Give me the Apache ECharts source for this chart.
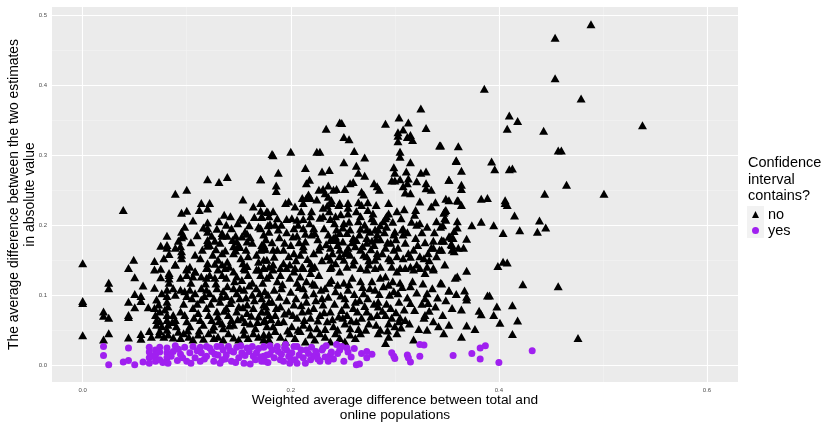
<!DOCTYPE html>
<html><head><meta charset="utf-8">
<script src="https://cdn.jsdelivr.net/npm/echarts@6/dist/echarts.min.js"></script>
<style>html,body{margin:0;padding:0;background:#fff}#c{width:822px;height:422px}</style>
</head><body><div id="c"></div>
<script>
// ---- tick values ----
const xMajor = [0, 0.2, 0.4, 0.6];
const xMinor = [0.1, 0.3, 0.5];
const yMajor = [0, 0.1, 0.2, 0.3, 0.4, 0.5];
const yMinor = [0.05, 0.15, 0.25, 0.35, 0.45];

// ---- "no" points (triangles) ----
const noLeft = [[0.000,0.146],[0.000,0.092],[0.000,0.089],[0.000,0.043],[0.039,0.222],
[0.025,0.118],[0.025,0.110],[0.020,0.077],[0.020,0.071],[0.025,0.068],[0.020,0.037],[0.025,0.046],
[0.044,0.139],[0.050,0.126],[0.044,0.091],[0.044,0.072],[0.044,0.069],[0.050,0.102],[0.050,0.083],[0.056,0.099],[0.056,0.092],[0.044,0.040],[0.056,0.045],[0.056,0.038],
[0.069,0.137],[0.075,0.138],[0.075,0.126],[0.069,0.111],[0.058,0.114],[0.069,0.082],[0.064,0.049],[0.049,0.151]];

const noUpperLeft = [[0.120,0.266],[0.131,0.262],[0.139,0.269],[0.171,0.266],[0.089,0.245],[0.100,0.251],
[0.095,0.218],[0.100,0.221],[0.114,0.232],[0.122,0.232],[0.112,0.222],[0.120,0.224],[0.154,0.237],[0.164,0.227],[0.171,0.232],[0.171,0.221],[0.178,0.219],[0.172,0.212],[0.142,0.213],[0.152,0.211],[0.154,0.208],[0.131,0.206],[0.138,0.201],[0.120,0.204],[0.120,0.196],[0.120,0.191],[0.169,0.198],[0.178,0.200],[0.095,0.191],[0.097,0.185],[0.095,0.183],[0.081,0.185],[0.134,0.189],[0.134,0.185],[0.139,0.185],[0.156,0.191],[0.158,0.188],[0.161,0.183],[0.147,0.185],[0.144,0.179],[0.148,0.177],[0.120,0.179],[0.120,0.175],[0.120,0.171],[0.122,0.172],[0.127,0.178],[0.158,0.177],[0.150,0.172],[0.151,0.169],[0.174,0.172],[0.175,0.166],[0.075,0.171],[0.081,0.172],[0.081,0.168],[0.089,0.168],[0.094,0.170],[0.095,0.163],[0.095,0.158],[0.095,0.153],[0.108,0.158],[0.113,0.153],[0.125,0.158],[0.134,0.160],[0.137,0.164],[0.145,0.160],[0.147,0.164],[0.152,0.153],[0.159,0.156],[0.083,0.159],[0.078,0.153],[0.069,0.149],[0.089,0.144],[0.100,0.138],[0.103,0.141],[0.120,0.146],[0.120,0.139],[0.127,0.145],[0.130,0.151],[0.134,0.144],[0.139,0.148],[0.141,0.141],[0.154,0.146],[0.158,0.142],[0.156,0.137],[0.169,0.148],[0.174,0.151],[0.169,0.137],[0.174,0.139],[0.179,0.141],[0.108,0.134],[0.083,0.132]];

const noLowerLeft = [[0.083,0.129],[0.083,0.124],[0.083,0.118],[0.089,0.144],[0.094,0.125],[0.100,0.137],[0.100,0.129],[0.106,0.127],[0.108,0.134],[0.114,0.127],[0.119,0.125],[0.119,0.139],[0.122,0.129],[0.127,0.125],[0.130,0.137],[0.134,0.129],[0.137,0.139],[0.138,0.125],[0.145,0.134],[0.148,0.127],[0.153,0.122],[0.155,0.139],[0.159,0.129],[0.163,0.118],[0.167,0.137],[0.171,0.129],[0.174,0.139],[0.177,0.125],
[0.076,0.103],[0.081,0.108],[0.081,0.099],[0.081,0.091],[0.082,0.084],[0.087,0.110],[0.089,0.101],[0.094,0.108],[0.098,0.106],[0.100,0.099],[0.103,0.108],[0.105,0.096],[0.108,0.103],[0.114,0.094],[0.114,0.110],[0.119,0.108],[0.122,0.103],[0.126,0.096],[0.129,0.110],[0.132,0.091],[0.135,0.106],[0.138,0.099],[0.142,0.089],[0.145,0.110],[0.148,0.103],[0.151,0.096],[0.155,0.108],[0.158,0.087],[0.163,0.101],[0.167,0.110],[0.172,0.096],[0.175,0.106],[0.179,0.091],[0.071,0.094],[0.073,0.087],[0.063,0.083],[0.074,0.077],
[0.070,0.072],[0.071,0.065],[0.071,0.058],[0.074,0.063],[0.076,0.056],[0.074,0.049],[0.079,0.080],[0.081,0.072],[0.081,0.065],[0.082,0.058],[0.081,0.051],[0.087,0.072],[0.089,0.065],[0.090,0.056],[0.094,0.077],[0.098,0.072],[0.100,0.063],[0.103,0.056],[0.106,0.082],[0.111,0.075],[0.113,0.065],[0.116,0.058],[0.119,0.082],[0.121,0.072],[0.124,0.065],[0.126,0.056],[0.129,0.077],[0.130,0.070],[0.134,0.060],[0.135,0.053],[0.138,0.082],[0.140,0.072],[0.143,0.065],[0.145,0.058],[0.148,0.077],[0.150,0.084],[0.153,0.068],[0.155,0.051],[0.158,0.075],[0.161,0.060],[0.164,0.082],[0.166,0.053],[0.169,0.070],[0.172,0.077],[0.174,0.063],[0.177,0.056],[0.179,0.072],
[0.066,0.041],[0.073,0.044],[0.078,0.041],[0.082,0.044],[0.087,0.040],[0.094,0.039],[0.097,0.046],[0.102,0.041],[0.106,0.037],[0.111,0.044],[0.116,0.038],[0.121,0.046],[0.126,0.039],[0.130,0.041],[0.135,0.037],[0.140,0.046],[0.145,0.040],[0.150,0.037],[0.155,0.044],[0.159,0.039],[0.164,0.046],[0.169,0.041],[0.174,0.037],[0.179,0.044]];

const noLowerMid = [[0.174,0.139],[0.180,0.129],[0.183,0.137],[0.187,0.120],[0.190,0.129],[0.191,0.110],[0.196,0.139],[0.199,0.125],[0.203,0.134],[0.206,0.118],[0.209,0.127],[0.212,0.139],[0.212,0.110],[0.215,0.120],[0.219,0.132],[0.222,0.103],[0.223,0.115],[0.227,0.129],[0.230,0.096],[0.233,0.110],[0.238,0.139],[0.239,0.122],[0.243,0.106],[0.247,0.134],[0.251,0.118],[0.252,0.096],[0.255,0.108],[0.259,0.125],[0.262,0.091],[0.267,0.120],[0.270,0.103],[0.273,0.137],[0.276,0.110],[0.281,0.108],[0.286,0.125],[0.291,0.127],[0.294,0.115],[0.299,0.106],[0.302,0.134],[0.305,0.118],[0.310,0.139],[0.315,0.113],[0.318,0.137],[0.324,0.139],[0.329,0.132],[0.331,0.103],[0.337,0.137],[0.344,0.118],[0.352,0.107],[0.358,0.125],[0.284,0.091],[0.295,0.101],[0.304,0.091],[0.315,0.089],[0.329,0.096],[0.332,0.089],
[0.174,0.087],[0.177,0.077],[0.175,0.065],[0.182,0.091],[0.185,0.072],[0.183,0.056],[0.190,0.084],[0.193,0.063],[0.198,0.077],[0.201,0.056],[0.203,0.087],[0.206,0.068],[0.211,0.077],[0.212,0.058],[0.215,0.091],[0.219,0.068],[0.222,0.082],[0.225,0.053],[0.228,0.072],[0.231,0.087],[0.235,0.063],[0.238,0.077],[0.241,0.056],[0.246,0.070],[0.249,0.079],[0.252,0.060],[0.254,0.072],[0.257,0.053],[0.260,0.082],[0.263,0.063],[0.268,0.068],[0.273,0.077],[0.275,0.060],[0.283,0.072],[0.284,0.084],[0.291,0.072],[0.294,0.060],[0.297,0.068],[0.300,0.056],[0.304,0.063],[0.305,0.068],[0.310,0.065],[0.328,0.068],[0.329,0.072],[0.337,0.063],[0.342,0.056],[0.352,0.058],[0.347,0.046],[0.331,0.051],[0.302,0.046],
[0.174,0.044],[0.179,0.037],[0.185,0.049],[0.190,0.041],[0.195,0.034],[0.199,0.046],[0.204,0.039],[0.209,0.049],[0.214,0.034],[0.219,0.044],[0.223,0.037],[0.228,0.046],[0.233,0.041],[0.238,0.034],[0.243,0.046],[0.247,0.039],[0.252,0.034],[0.257,0.044],[0.262,0.039],[0.267,0.046],[0.284,0.046],[0.286,0.051],[0.291,0.032],[0.294,0.041],[0.318,0.037]];

const noCoreExtra = [[0.086,0.062],[0.092,0.048],[0.097,0.088],[0.101,0.050],[0.104,0.118],[0.107,0.068],[0.110,0.088],[0.112,0.050],[0.117,0.099],[0.118,0.117],[0.123,0.088],[0.125,0.051],[0.128,0.117],[0.131,0.063],[0.133,0.098],[0.136,0.078],[0.139,0.113],[0.141,0.057],[0.143,0.094],[0.146,0.120],[0.149,0.066],[0.151,0.110],[0.154,0.083],[0.156,0.062],[0.157,0.097],[0.160,0.114],[0.162,0.071],[0.165,0.093],[0.168,0.062],[0.170,0.103],[0.173,0.118],[0.176,0.084],[0.178,0.101],[0.181,0.066],[0.184,0.108],[0.186,0.082],[0.188,0.062],[0.189,0.098],[0.192,0.116],[0.194,0.074],[0.196,0.093],[0.197,0.050],[0.200,0.105],[0.202,0.072],[0.205,0.096],[0.207,0.051],[0.208,0.112],[0.210,0.086],[0.213,0.065],[0.214,0.101],[0.217,0.078],[0.218,0.054],[0.221,0.117],[0.224,0.093],[0.226,0.064],[0.229,0.108],[0.232,0.076],[0.233,0.052],[0.236,0.098],[0.237,0.118],[0.240,0.066],[0.242,0.088],[0.245,0.115],[0.245,0.051],[0.248,0.100],[0.250,0.068],[0.253,0.087],[0.256,0.116],[0.258,0.064],[0.261,0.102],[0.264,0.077],[0.265,0.052],[0.266,0.093],[0.269,0.112],[0.271,0.085],[0.272,0.051],[0.274,0.096],[0.277,0.070],[0.278,0.120],[0.280,0.088],[0.282,0.058],[0.285,0.102],[0.288,0.078],[0.289,0.113],[0.292,0.088],[0.293,0.050],[0.296,0.082],[0.298,0.120],[0.301,0.076],[0.303,0.103],[0.306,0.054],[0.307,0.112],[0.309,0.080],[0.312,0.097],[0.314,0.060],[0.317,0.120],[0.319,0.079],[0.321,0.104],[0.323,0.052],[0.326,0.088],[0.327,0.117],[0.333,0.078],[0.336,0.110],[0.339,0.084],[0.341,0.097],[0.346,0.072],[0.349,0.093],[0.355,0.082]];

const noMidExtra = [[0.092,0.178],[0.098,0.198],[0.104,0.176],[0.106,0.207],[0.110,0.186],[0.115,0.165],[0.116,0.197],[0.124,0.185],[0.128,0.166],[0.129,0.195],[0.132,0.175],[0.136,0.215],[0.143,0.196],[0.145,0.170],[0.149,0.203],[0.153,0.184],[0.157,0.165],[0.160,0.200],[0.163,0.175],[0.165,0.212],[0.167,0.158],[0.176,0.180],[0.180,0.202],[0.182,0.176],[0.184,0.155],[0.189,0.183],[0.191,0.201],[0.194,0.175],[0.196,0.190],[0.200,0.172],[0.202,0.184],[0.205,0.150],[0.208,0.176],[0.210,0.220],[0.214,0.177],[0.216,0.152],[0.218,0.203],[0.222,0.160],[0.226,0.180],[0.228,0.211],[0.230,0.150],[0.232,0.196],[0.234,0.173],[0.237,0.220],[0.240,0.160],[0.242,0.203],[0.245,0.172],[0.248,0.216],[0.250,0.197],[0.252,0.160],[0.256,0.205],[0.259,0.176],[0.261,0.150],[0.263,0.220],[0.266,0.187],[0.269,0.170],[0.271,0.201],[0.275,0.150],[0.277,0.166],[0.279,0.217],[0.282,0.180],[0.286,0.200],[0.288,0.160],[0.290,0.190],[0.293,0.176],[0.296,0.150],[0.298,0.205],[0.301,0.180],[0.303,0.168],[0.306,0.210],[0.310,0.175],[0.312,0.190],[0.315,0.155],[0.316,0.205],[0.322,0.172],[0.326,0.190],[0.329,0.176],[0.333,0.150],[0.338,0.190],[0.343,0.165],[0.346,0.200]];

const noUpperMid = [[0.182,0.302],[0.200,0.305],[0.225,0.305],[0.228,0.305],[0.261,0.306],[0.271,0.297],[0.305,0.305],[0.305,0.298],[0.251,0.290],[0.263,0.285],[0.214,0.282],[0.188,0.275],[0.230,0.277],[0.237,0.279],[0.265,0.275],[0.271,0.271],[0.299,0.283],[0.300,0.275],[0.311,0.277],[0.315,0.290],[0.325,0.275],[0.330,0.277],[0.359,0.292],[0.171,0.266],[0.218,0.265],[0.215,0.260],[0.257,0.260],[0.260,0.262],[0.280,0.260],[0.297,0.264],[0.300,0.264],[0.305,0.266],[0.312,0.260],[0.313,0.267],[0.321,0.263],[0.330,0.260],[0.330,0.253],[0.335,0.251],[0.352,0.265],[0.186,0.257],[0.186,0.249],[0.227,0.251],[0.231,0.252],[0.236,0.257],[0.241,0.251],[0.244,0.252],[0.233,0.246],[0.252,0.252],[0.268,0.248],[0.270,0.244],[0.283,0.256],[0.285,0.251],[0.308,0.256],[0.310,0.247],[0.315,0.246],[0.217,0.244],[0.215,0.239],[0.219,0.239],[0.211,0.239],[0.212,0.232],[0.225,0.237],[0.236,0.241],[0.239,0.236],[0.239,0.232],[0.172,0.232],[0.177,0.220],[0.172,0.213],[0.195,0.232],[0.198,0.234],[0.204,0.227],[0.220,0.220],[0.231,0.225],[0.235,0.228],[0.246,0.229],[0.247,0.232],[0.255,0.232],[0.255,0.225],[0.255,0.217],[0.265,0.233],[0.268,0.229],[0.274,0.233],[0.282,0.229],[0.274,0.222],[0.294,0.232],[0.294,0.217],[0.292,0.213],[0.302,0.220],[0.309,0.223],[0.320,0.222],[0.319,0.215],[0.324,0.234],[0.335,0.227],[0.339,0.233],[0.348,0.220],[0.352,0.236],[0.360,0.236],[0.183,0.220],[0.179,0.213],[0.187,0.210],[0.185,0.201],[0.188,0.194],[0.196,0.209],[0.201,0.210],[0.206,0.208],[0.212,0.209],[0.219,0.213],[0.231,0.213],[0.238,0.209],[0.243,0.213],[0.251,0.203],[0.265,0.206],[0.267,0.213],[0.278,0.210],[0.280,0.206],[0.289,0.206],[0.291,0.210],[0.292,0.198],[0.300,0.191],[0.307,0.194],[0.308,0.195],[0.321,0.201],[0.324,0.203],[0.331,0.198],[0.340,0.206],[0.348,0.210],[0.207,0.201],[0.203,0.196],[0.212,0.196],[0.222,0.196],[0.223,0.189],[0.244,0.194],[0.247,0.189],[0.243,0.184],[0.254,0.189],[0.257,0.194],[0.267,0.195],[0.273,0.194],[0.276,0.191],[0.281,0.194],[0.283,0.187],[0.284,0.194],[0.286,0.180],[0.171,0.196],[0.174,0.187],[0.179,0.191],[0.206,0.185],[0.214,0.188],[0.220,0.187],[0.236,0.187],[0.238,0.179],[0.241,0.182],[0.244,0.179],[0.250,0.177],[0.260,0.182],[0.263,0.179],[0.262,0.170],[0.273,0.182],[0.273,0.175],[0.278,0.178],[0.280,0.172],[0.296,0.175],[0.299,0.187],[0.308,0.187],[0.320,0.182],[0.337,0.178],[0.345,0.178],[0.352,0.184],[0.355,0.182],[0.355,0.172],[0.172,0.172],[0.174,0.167],[0.175,0.168],[0.171,0.165],[0.183,0.165],[0.187,0.165],[0.193,0.165],[0.198,0.156],[0.203,0.160],[0.209,0.158],[0.212,0.170],[0.212,0.165],[0.228,0.170],[0.227,0.165],[0.238,0.168],[0.235,0.156],[0.238,0.151],[0.247,0.165],[0.254,0.163],[0.255,0.168],[0.257,0.158],[0.247,0.156],[0.251,0.151],[0.267,0.165],[0.270,0.158],[0.273,0.156],[0.283,0.160],[0.283,0.156],[0.281,0.151],[0.291,0.168],[0.294,0.153],[0.299,0.165],[0.302,0.156],[0.308,0.153],[0.313,0.160],[0.318,0.165],[0.324,0.156],[0.328,0.153],[0.332,0.160],[0.335,0.168],[0.337,0.168],[0.340,0.156],[0.345,0.165],[0.355,0.165],[0.361,0.168],[0.177,0.151],[0.183,0.144],[0.190,0.139],[0.193,0.146],[0.199,0.144],[0.204,0.139],[0.211,0.141],[0.219,0.146],[0.220,0.139],[0.223,0.141],[0.239,0.141],[0.243,0.146],[0.254,0.141],[0.260,0.144],[0.267,0.139],[0.275,0.144],[0.281,0.139],[0.286,0.141],[0.297,0.141],[0.305,0.139],[0.315,0.141],[0.321,0.144],[0.331,0.141],[0.337,0.139],[0.348,0.144],
[0.325,0.367],[0.304,0.354],[0.313,0.347],[0.291,0.345],[0.308,0.337],[0.330,0.339],[0.303,0.333],[0.303,0.328],[0.303,0.320],[0.312,0.326],[0.315,0.329],[0.317,0.322],[0.247,0.347],[0.249,0.346],[0.234,0.338],[0.251,0.326],[0.256,0.323],[0.343,0.314],[0.183,0.300]];

const noRight = [[0.4885,0.487],[0.454,0.468],[0.454,0.410],[0.386,0.395],[0.479,0.381],[0.410,0.357],[0.418,0.349],[0.408,0.338],[0.443,0.335],[0.538,0.343],[0.361,0.313],[0.457,0.307],[0.460,0.307],[0.344,0.314],
[0.359,0.293],[0.393,0.291],[0.364,0.278],[0.396,0.280],[0.410,0.280],[0.413,0.281],[0.352,0.265],[0.364,0.258],[0.364,0.252],[0.465,0.258],[0.444,0.245],[0.501,0.245],[0.349,0.238],[0.383,0.238],[0.389,0.239],[0.361,0.235],[0.364,0.229],[0.406,0.236],[0.406,0.232],[0.408,0.229],[0.349,0.222],[0.347,0.218],[0.415,0.214],[0.349,0.208],[0.360,0.206],[0.439,0.207],[0.383,0.205],[0.374,0.200],[0.395,0.200],[0.360,0.197],[0.344,0.198],[0.445,0.197],[0.357,0.192],[0.420,0.193],[0.437,0.191],[0.404,0.189],[0.353,0.184],[0.356,0.182],[0.369,0.181],[0.345,0.179],[0.347,0.178],[0.354,0.173],[0.366,0.168],[0.357,0.163],[0.404,0.148],[0.408,0.147],[0.399,0.142],[0.369,0.135],[0.360,0.127],[0.345,0.117],[0.423,0.116],[0.457,0.113],[0.352,0.107],[0.367,0.107],[0.359,0.102],[0.369,0.098],[0.389,0.100],[0.391,0.100],
[0.369,0.094],[0.398,0.084],[0.413,0.086],[0.364,0.080],[0.381,0.078],[0.383,0.073],[0.395,0.072],[0.401,0.061],[0.418,0.064],[0.369,0.057],[0.377,0.052],[0.413,0.045],[0.364,0.041],[0.476,0.039]];

// ---- "yes" points (purple circles) ----
const yesLeft = [[0.020,0.027],[0.020,0.014],[0.025,0.001],[0.044,0.025],[0.039,0.005],[0.044,0.007],[0.050,0.001],[0.058,0.005],
[0.064,0.026],[0.064,0.019],[0.064,0.011],[0.064,0.003],[0.070,0.022],[0.070,0.015],[0.070,0.006],[0.074,0.026],[0.074,0.019],[0.074,0.008],[0.081,0.025],[0.081,0.018],[0.081,0.011],[0.082,0.003],[0.089,0.028],[0.087,0.020],[0.094,0.016],[0.098,0.026],[0.100,0.006],[0.103,0.018],[0.106,0.027],[0.108,0.011],[0.113,0.026],[0.114,0.018],[0.113,0.006],[0.119,0.027],[0.119,0.013],[0.124,0.020],[0.126,0.006],[0.129,0.027],[0.130,0.015],[0.134,0.008],[0.135,0.022],[0.138,0.015],[0.140,0.027],[0.143,0.006],[0.145,0.019],[0.148,0.026],[0.150,0.011],[0.153,0.018],[0.155,0.003],[0.158,0.025],[0.161,0.002],[0.164,0.013],[0.167,0.018],[0.172,0.006],[0.174,0.026],[0.177,0.015],[0.180,0.028],
[0.067,0.013],[0.077,0.004],[0.085,0.013],[0.091,0.007],[0.092,0.023],[0.096,0.011],[0.104,0.003],[0.110,0.021],[0.117,0.009],[0.122,0.025],[0.127,0.016],[0.132,0.003],[0.133,0.027],[0.137,0.009],[0.142,0.021],[0.147,0.004],[0.152,0.028],[0.156,0.014],[0.160,0.020],[0.163,0.027],[0.166,0.008],[0.169,0.024],[0.171,0.012],[0.178,0.004]];
const yesRight = [[0.174,0.027],[0.174,0.013],[0.175,0.006],[0.180,0.016],[0.187,0.027],[0.188,0.020],[0.190,0.008],[0.193,0.006],[0.195,0.030],[0.196,0.022],[0.198,0.013],[0.199,0.003],[0.201,0.018],[0.204,0.008],[0.206,0.027],[0.206,0.003],[0.212,0.011],[0.214,0.003],[0.215,0.022],[0.219,0.008],[0.222,0.013],[0.225,0.015],[0.228,0.006],[0.230,0.022],[0.231,0.025],[0.238,0.015],[0.239,0.019],[0.244,0.030],[0.247,0.022],[0.236,0.006],[0.251,0.006],[0.254,0.025],[0.255,0.019],[0.263,0.001],[0.266,0.002],[0.273,0.020],[0.278,0.016],[0.273,0.011],[0.297,0.018],[0.299,0.013],[0.300,0.010],[0.312,0.015],[0.313,0.011],[0.315,0.005],[0.324,0.030],[0.328,0.029],[0.324,0.013],[0.356,0.014],
[0.374,0.017],[0.382,0.025],[0.387,0.028],[0.382,0.009],[0.400,0.004],[0.432,0.021],
[0.182,0.022],[0.184,0.011],[0.191,0.016],[0.194,0.025],[0.200,0.009],[0.203,0.027],[0.208,0.015],[0.210,0.022],[0.217,0.017],[0.220,0.026],[0.224,0.020],[0.226,0.009],[0.233,0.012],[0.234,0.028],[0.241,0.009],[0.245,0.017],[0.249,0.027],[0.258,0.012],[0.261,0.024],[0.268,0.017]];

const noPoints = [].concat(noLeft, noUpperLeft, noLowerLeft, noLowerMid, noCoreExtra, noMidExtra, noUpperMid, noRight);
const yesPoints = [].concat(yesLeft, yesRight);

const FONT = 'Liberation Sans, Arial, sans-serif';
const chart = echarts.init(document.getElementById('c'), null, {renderer: 'canvas'});

const gridLines = []
  .concat(xMinor.map(v => ({xAxis: v, lineStyle: {color: '#F4F4F4', width: 0.6, type: 'solid'}})))
  .concat(yMinor.map(v => ({yAxis: v, lineStyle: {color: '#F4F4F4', width: 0.6, type: 'solid'}})))
  .concat(xMajor.map(v => ({xAxis: v, lineStyle: {color: '#FFFFFF', width: 1.1, type: 'solid'}})))
  .concat(yMajor.map(v => ({yAxis: v, lineStyle: {color: '#FFFFFF', width: 1.1, type: 'solid'}})));

chart.setOption({
  animation: false,
  backgroundColor: '#FFFFFF',
  grid: {left: 52, right: 84, top: 7, bottom: 40, show: true, backgroundColor: '#EBEBEB', borderWidth: 0},
  xAxis: {
    type: 'value', min: -0.0295, max: 0.6298,
    splitLine: {show: false}, axisLine: {show: false},
    axisTick: {show: true, customValues: xMajor, length: 3, lineStyle: {color: '#333333', width: 1}},
    axisLabel: {customValues: xMajor, formatter: v => v.toFixed(1), fontSize: 6, color: '#4D4D4D', margin: 5, fontFamily: FONT}
  },
  yAxis: {
    type: 'value', min: -0.0237, max: 0.5118,
    splitLine: {show: false}, axisLine: {show: false},
    axisTick: {show: true, customValues: yMajor, length: 3, lineStyle: {color: '#333333', width: 1}},
    axisLabel: {customValues: yMajor, formatter: v => v.toFixed(1), fontSize: 6, color: '#4D4D4D', margin: 5, fontFamily: FONT}
  },
  legend: {
    orient: 'vertical', left: 747, top: 202, itemWidth: 7, itemHeight: 7, itemGap: 1,
    data: [{name: 'no', icon: 'triangle'}, {name: 'yes', icon: 'circle'}],
    textStyle: {fontSize: 14.5, color: '#000', fontFamily: FONT, padding: [0, 0, 0, 4], lineHeight: 14},
    selectedMode: false
  },
  graphic: [
    {type: 'rect', left: 747, top: 206, shape: {width: 17, height: 16}, style: {fill: '#F2F2F2'}, z: -1},
    {type: 'rect', left: 747, top: 222, shape: {width: 17, height: 16}, style: {fill: '#F2F2F2'}, z: -1},
    {type: 'text', left: 748, top: 155, style: {text: 'Confidence\ninterval\ncontains?', fontSize: 14.5, lineHeight: 16.5, fill: '#000', fontFamily: FONT}},
    {type: 'text', x: 22, y: 194.5, rotation: Math.PI / 2,
     style: {text: 'The average difference between the two estimates\nin absolute value', fontSize: 13.9, lineHeight: 16, fill: '#000', align: 'center', verticalAlign: 'middle', fontFamily: FONT}},
    {type: 'text', x: 395, y: 407.5,
     style: {text: 'Weighted average difference between total and\nonline populations', fontSize: 13.7, lineHeight: 15, fill: '#000', align: 'center', verticalAlign: 'middle', fontFamily: FONT}}
  ],
  series: [
    {type: 'scatter', name: 'grid', data: [], silent: true, z: 1,
     markLine: {silent: true, z: 1, symbol: ['none', 'none'], label: {show: false}, emphasis: {disabled: true}, animation: false, data: gridLines}},
    {type: 'scatter', name: 'no', data: noPoints, symbol: 'triangle', symbolSize: [9, 8], z: 3,
     itemStyle: {color: '#000000', opacity: 1}, emphasis: {disabled: true}},
    {type: 'scatter', name: 'yes', data: yesPoints, symbol: 'circle', symbolSize: 7, z: 3,
     itemStyle: {color: '#A020F0', opacity: 1}, emphasis: {disabled: true}}
  ]
});
</script></body></html>
